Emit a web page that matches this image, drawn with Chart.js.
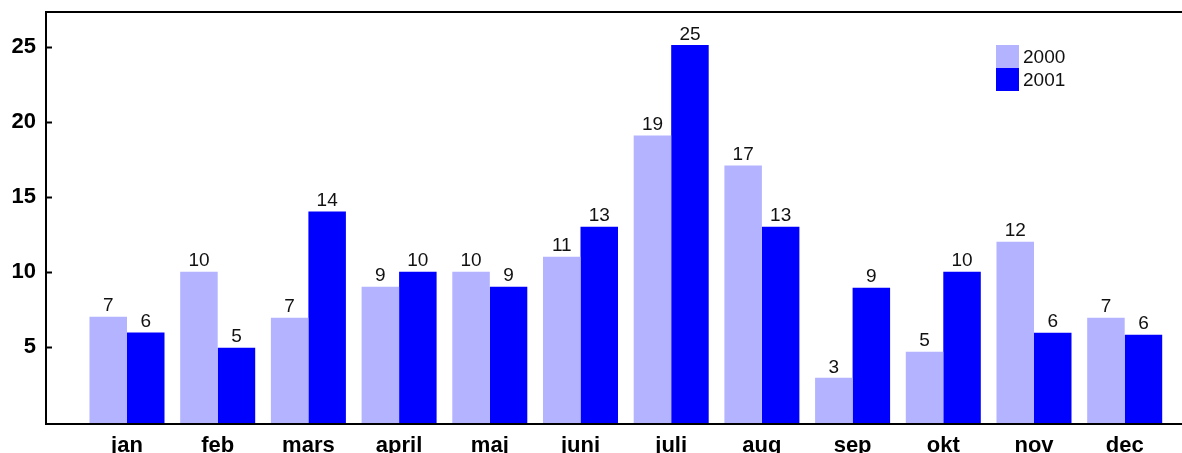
<!DOCTYPE html>
<html>
<head>
<meta charset="utf-8">
<script src="https://cdn.jsdelivr.net/npm/chart.js@4"></script>
<style>
  html, body { margin: 0; padding: 0; background: #fff; overflow: hidden; }
  #wrap { width: 1200px; height: 453px; }
</style>
</head>
<body>
<div id="wrap"><canvas id="chart" width="1200" height="453"></canvas></div>
<script>
// Data
const months = ['jan', 'feb', 'mars', 'april', 'maj', 'juni', 'juli', 'aug', 'sep', 'okt', 'nov', 'dec'];
const values2000 = [7.0, 10.0, 6.93, 9.0, 10.0, 11.0, 19.07, 17.07, 2.93, 4.67, 12.0, 6.93];
const values2001 = [5.95, 4.93, 14.0, 10.0, 9.0, 13.0, 25.1, 13.0, 8.93, 10.0, 5.93, 5.8];
const yTicks = [5, 10, 15, 20, 25];
const seriesNames = ['2000', '2001'];
const seriesColors = ['#b3b3ff', '#0000ff'];

const FONT = '"Liberation Sans", Arial, Helvetica, sans-serif';
const Y_MIN = -0.15;

function toPoints(arr) {
    return arr.map((v, i) => ({ x: i, y: v }));
}

// frame, inward ticks, value labels, legend
const decorPlugin = {
    id: 'decor',
    afterDatasetsDraw(chart) {
        const ctx = chart.ctx;
        const a = chart.chartArea;
        const y = chart.scales.y;
        ctx.save();

        // value labels above bars
        ctx.fillStyle = '#111';
        ctx.font = '19px ' + FONT;
        ctx.textAlign = 'center';
        ctx.textBaseline = 'bottom';
        chart.data.datasets.forEach((ds, di) => {
            chart.getDatasetMeta(di).data.forEach((bar, i) => {
                ctx.fillText(String(Math.round(ds.data[i].y)), bar.x, bar.y - 1);
            });
        });

        // frame (right side runs off the page)
        ctx.strokeStyle = '#000';
        ctx.lineWidth = 2;
        ctx.beginPath();
        ctx.moveTo(a.right + 20, a.top);
        ctx.lineTo(a.left, a.top);
        ctx.lineTo(a.left, a.bottom);
        ctx.lineTo(a.right + 20, a.bottom);
        ctx.stroke();

        // tick marks pointing into the plot
        ctx.beginPath();
        yTicks.forEach(v => {
            const py = Math.round(y.getPixelForValue(v)) + 0.5;
            ctx.moveTo(a.left, py);
            ctx.lineTo(a.left + 6, py);
        });
        ctx.stroke();

        // legend
        const lx = 996, ly = 45, box = 23;
        ctx.font = '19px ' + FONT;
        ctx.textAlign = 'left';
        ctx.textBaseline = 'middle';
        seriesNames.forEach((name, i) => {
            ctx.fillStyle = seriesColors[i];
            ctx.fillRect(lx, ly + i * box, box, box);
            ctx.fillStyle = '#111';
            ctx.fillText(name, lx + box + 4, ly + i * box + box / 2 + 1);
        });

        ctx.restore();
    }
};

new Chart(document.getElementById('chart'), {
    type: 'bar',
    data: {
        datasets: [
            { label: seriesNames[0], data: toPoints(values2000), backgroundColor: seriesColors[0], base: Y_MIN },
            { label: seriesNames[1], data: toPoints(values2001), backgroundColor: seriesColors[1], base: Y_MIN }
        ]
    },
    options: {
        responsive: false,
        animation: false,
        layout: { padding: { top: 12, right: 10, left: 0, bottom: 0 } },
        datasets: { bar: { categoryPercentage: 0.827, barPercentage: 1.0 } },
        plugins: { legend: { display: false }, tooltip: { enabled: false }, title: { display: false } },
        scales: {
            x: {
                type: 'linear',
                offset: false,
                min: -0.893,
                max: 11.72,
                grid: { display: false, offset: false },
                border: { display: false },
                afterBuildTicks: s => { s.ticks = months.map((m, i) => ({ value: i })); },
                afterFit: s => { s.height = 29; s.paddingLeft = 0; s.paddingRight = 0; },
                ticks: {
                    autoSkip: false,
                    maxRotation: 0,
                    padding: 1,
                    color: '#000',
                    font: { family: FONT, size: 22, weight: 'bold' },
                    callback: v => months[v]
                }
            },
            y: {
                min: Y_MIN,
                max: 27.3,
                grid: { display: false, drawTicks: false },
                border: { display: false },
                afterBuildTicks: s => { s.ticks = yTicks.map(v => ({ value: v })); },
                afterFit: s => { s.width = 46; s.paddingTop = 0; s.paddingBottom = 0; },
                ticks: {
                    padding: 10,
                    color: '#000',
                    font: { family: FONT, size: 22, weight: 'bold' }
                }
            }
        }
    },
    plugins: [decorPlugin]
});
</script>
</body>
</html>
